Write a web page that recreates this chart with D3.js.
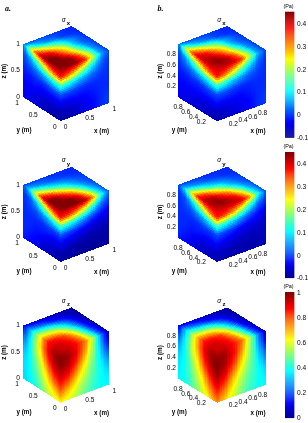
<!DOCTYPE html>
<html>
<head>
<meta charset="utf-8">
<script src="https://cdn.jsdelivr.net/npm/d3@7"></script>
<style>
  html, body { margin: 0; padding: 0; background: #fff; }
  text { font-family: "Liberation Sans", Arial, sans-serif; }
</style>
</head>
<body>
<svg id="chart" width="308" height="423"></svg>
<script>
// colour map
const JET_STOPS = [0, 0.125, 0.375, 0.625, 0.875, 1];
const JET_COLORS = ['#00008f', '#0000ff', '#00ffff', '#ffff00', '#ff0000', '#800000'];

// stress, in Pa. 7 x 7 nodes per face.
// top: rows y = 0..1, cols x = 0..1
// left (plane x = 0): rows z = 1..0, cols y = 0..1
// right (plane y = 0): rows z = 1..0, cols x = 0..1
const sxTopA = [
  [.44, .45, .44, .37, .21, .06, .00],
  [.45, .45, .44, .34, .20, .06, .00],
  [.45, .45, .36, .26, .14, .04, .00],
  [.42, .39, .30, .22, .08, .02, .00],
  [.34, .26, .19, .13, .06, .02, -.01],
  [.19, .10, .05, .03, .00, -.01, -.01],
  [.02, .01, .01, .00, .00, -.01, -.01]];
const sxLeftA = [
  [.44, .45, .45, .42, .34, .19, .02],
  [.37, .34, .28, .20, .12, .05, .00],
  [.14, .12, .09, .06, .03, .01, -.01],
  [.01, .01, .00, -.01, -.01, -.02, -.02],
  [-.04, -.04, -.04, -.04, -.03, -.03, -.03],
  [-.08, -.07, -.07, -.06, -.05, -.04, -.04],
  [-.09, -.09, -.08, -.07, -.06, -.05, -.04]];
const sxRightA = [
  [.44, .45, .44, .37, .21, .06, .00],
  [.37, .33, .26, .17, .09, .02, -.01],
  [.14, .12, .08, .05, .02, .00, -.01],
  [.01, .01, .00, -.01, -.01, -.01, -.01],
  [-.04, -.04, -.03, -.03, -.02, -.01, -.01],
  [-.08, -.07, -.06, -.04, -.03, -.01, .00],
  [-.09, -.08, -.07, -.05, -.03, -.01, .00]];

const syTopA = [
  [.44, .45, .45, .43, .31, .12, .01],
  [.45, .45, .45, .39, .26, .10, .01],
  [.45, .44, .37, .29, .17, .06, .01],
  [.38, .33, .25, .17, .08, .03, .00],
  [.24, .18, .11, .07, .04, .01, .00],
  [.09, .05, .03, .01, .00, -.01, -.01],
  [.00, .00, .00, -.01, -.01, -.01, -.01]];
const syLeftA = [
  [.44, .45, .45, .38, .24, .09, .00],
  [.37, .32, .24, .15, .07, .01, -.01],
  [.14, .11, .07, .04, .01, .00, -.01],
  [.01, .00, .00, -.01, -.01, -.01, -.01],
  [-.04, -.04, -.03, -.02, -.02, -.01, -.01],
  [-.08, -.07, -.06, -.05, -.03, -.02, -.01],
  [-.09, -.08, -.07, -.06, -.04, -.03, -.02]];
const syRightA = [
  [.44, .45, .45, .43, .31, .12, .01],
  [.37, .35, .30, .22, .12, .03, -.01],
  [.14, .12, .09, .05, .01, -.02, -.04],
  [.01, .00, -.01, -.03, -.05, -.06, -.06],
  [-.04, -.05, -.06, -.07, -.08, -.08, -.08],
  [-.08, -.08, -.09, -.09, -.09, -.09, -.08],
  [-.09, -.09, -.09, -.09, -.09, -.09, -.08]];

const szTopA = [
  [.93, .92, .87, .76, .54, .24, .05],
  [.92, .91, .85, .72, .48, .21, .05],
  [.86, .85, .80, .64, .40, .17, .04],
  [.68, .68, .63, .50, .30, .13, .03],
  [.48, .46, .43, .33, .22, .09, .03],
  [.28, .24, .20, .14, .10, .05, .02],
  [.10, .09, .07, .05, .04, .03, .02]];
const szLeftA = [
  [.93, .92, .86, .68, .48, .28, .10],
  [1.0, .97, .89, .71, .52, .34, .20],
  [.98, .95, .84, .67, .52, .36, .27],
  [.93, .88, .76, .61, .48, .37, .32],
  [.85, .79, .68, .56, .46, .37, .34],
  [.75, .68, .61, .52, .43, .37, .34],
  [.63, .60, .55, .48, .40, .36, .34]];
const szRightA = [
  [.93, .92, .87, .76, .54, .24, .05],
  [1.0, .97, .89, .73, .52, .28, .10],
  [.98, .95, .84, .67, .50, .32, .18],
  [.93, .88, .75, .60, .47, .36, .26],
  [.85, .78, .66, .55, .45, .38, .32],
  [.75, .67, .59, .50, .43, .38, .36],
  [.63, .60, .54, .47, .42, .38, .37]];

const sxTopB = [
  [.41, .42, .41, .36, .21, .06, .00],
  [.42, .45, .42, .33, .20, .06, .00],
  [.42, .42, .36, .27, .14, .04, .00],
  [.40, .37, .30, .22, .08, .02, .00],
  [.33, .26, .19, .13, .06, .02, -.01],
  [.19, .10, .05, .03, .00, -.01, -.01],
  [.02, .01, .01, .00, .00, -.01, -.01]];
const sxLeftB = [
  [.41, .42, .42, .40, .33, .19, .02],
  [.37, .34, .28, .20, .12, .05, .00],
  [.14, .12, .09, .06, .03, .01, -.01],
  [.01, .01, .00, -.01, -.01, -.02, -.02],
  [-.03, -.03, -.03, -.03, -.03, -.03, -.03],
  [-.07, -.06, -.06, -.05, -.05, -.04, -.04],
  [-.08, -.08, -.07, -.06, -.06, -.05, -.04]];
const sxRightB = [
  [.41, .42, .41, .36, .21, .06, .00],
  [.37, .33, .26, .17, .09, .02, -.01],
  [.14, .12, .08, .05, .02, .00, -.01],
  [.01, .01, .00, -.01, -.01, -.01, -.01],
  [-.03, -.03, -.03, -.03, -.02, -.01, -.01],
  [-.07, -.06, -.05, -.04, -.03, -.01, .00],
  [-.08, -.07, -.06, -.05, -.03, -.01, .00]];

const syTopB = [
  [.41, .42, .42, .41, .31, .12, .01],
  [.42, .45, .42, .37, .26, .10, .01],
  [.42, .42, .36, .29, .17, .06, .01],
  [.37, .33, .25, .17, .08, .03, .00],
  [.24, .18, .11, .07, .04, .01, .00],
  [.09, .05, .03, .01, .00, -.01, -.01],
  [.00, .00, .00, -.01, -.01, -.01, -.01]];
const syLeftB = [
  [.41, .42, .42, .37, .24, .09, .00],
  [.37, .32, .24, .15, .07, .01, -.01],
  [.14, .11, .07, .04, .01, .00, -.01],
  [.01, .00, .00, -.01, -.01, -.01, -.01],
  [-.03, -.03, -.03, -.02, -.02, -.01, -.01],
  [-.07, -.06, -.06, -.05, -.03, -.02, -.01],
  [-.08, -.07, -.07, -.06, -.04, -.03, -.02]];
const syRightB = [
  [.41, .42, .42, .41, .31, .12, .01],
  [.37, .35, .30, .22, .12, .03, -.01],
  [.14, .12, .09, .05, .01, -.02, -.04],
  [.01, .00, -.01, -.03, -.04, -.05, -.06],
  [-.03, -.04, -.05, -.06, -.07, -.07, -.07],
  [-.07, -.07, -.08, -.08, -.08, -.08, -.07],
  [-.08, -.08, -.08, -.08, -.08, -.08, -.07]];

const szTopB = [
  [.92, .92, .87, .77, .56, .26, .05],
  [.92, .91, .86, .73, .50, .22, .05],
  [.86, .86, .82, .66, .42, .18, .04],
  [.70, .70, .65, .52, .32, .13, .03],
  [.50, .47, .44, .34, .22, .09, .03],
  [.30, .25, .20, .14, .10, .05, .02],
  [.10, .09, .07, .05, .04, .03, .02]];
const szLeftB = [
  [.92, .92, .86, .70, .50, .30, .10],
  [.98, .97, .89, .72, .54, .36, .20],
  [1.0, .96, .85, .68, .54, .38, .28],
  [.97, .91, .78, .63, .50, .38, .33],
  [.91, .83, .70, .58, .47, .39, .35],
  [.83, .75, .64, .54, .45, .39, .36],
  [.74, .67, .59, .51, .44, .39, .37]];
const szRightB = [
  [.92, .92, .87, .77, .56, .26, .05],
  [.98, .97, .89, .74, .54, .30, .11],
  [1.0, .96, .85, .68, .52, .34, .20],
  [.97, .91, .77, .62, .49, .37, .27],
  [.91, .83, .68, .56, .46, .39, .33],
  [.83, .74, .62, .52, .44, .39, .36],
  [.74, .67, .57, .49, .43, .39, .37]];

// tick labels
const ticksA = [0, 0.5, 1];
const ticksB = [0.2, 0.4, 0.6, 0.8];
const cbarTicksXY = [-0.1, 0, 0.1, 0.2, 0.3, 0.4];
const cbarTicksZ = [0, 0.2, 0.4, 0.6, 0.8, 1];

const svg = d3.select('#chart');

const SUB = 5;            // polygons per grid cell along each side
const LABEL_COLOR = '#000';

const panels = [
  { col: 'a', row: 0, top: sxTopA, left: sxLeftA, right: sxRightA, domain: [-0.1, 0.45], title: 'x' },
  { col: 'b', row: 0, top: sxTopB, left: sxLeftB, right: sxRightB, domain: [-0.1, 0.45], title: 'x' },
  { col: 'a', row: 1, top: syTopA, left: syLeftA, right: syRightA, domain: [-0.1, 0.45], title: 'y' },
  { col: 'b', row: 1, top: syTopB, left: syLeftB, right: syRightB, domain: [-0.1, 0.45], title: 'y' },
  { col: 'a', row: 2, top: szTopA, left: szLeftA, right: szRightA, domain: [0, 1], title: 'z' },
  { col: 'b', row: 2, top: szTopB, left: szLeftB, right: szRightB, domain: [0, 1], title: 'z' },
];

const defs = svg.append('defs');
defs.append('filter').attr('id', 'soft')
  .attr('x', '-5%').attr('y', '-5%').attr('width', '110%').attr('height', '110%')
  .attr('color-interpolation-filters', 'sRGB')
  .append('feGaussianBlur').attr('stdDeviation', 0.45);
defs.append('filter').attr('id', 'softText')
  .attr('x', '-30%').attr('y', '-30%').attr('width', '160%').attr('height', '160%')
  .attr('color-interpolation-filters', 'sRGB')
  .append('feGaussianBlur').attr('stdDeviation', 0.18);

function jetScale(domain) {
  const t = d3.scaleLinear().domain(domain).range([0, 1]).clamp(true);
  const c = d3.scaleLinear().domain(JET_STOPS).range(JET_COLORS).interpolate(d3.interpolateRgb);
  return v => c(t(v));
}

// value inside a face grid, u along the columns, v along the rows
function sampleGrid(grid, u, v) {
  const n = grid.length - 1;
  const i = Math.min(Math.floor(v * n), n - 1), j = Math.min(Math.floor(u * n), n - 1);
  const fu = u * n - j, fv = v * n - i;
  const a = grid[i][j] + (grid[i][j + 1] - grid[i][j]) * fu;
  const b = grid[i + 1][j] + (grid[i + 1][j + 1] - grid[i + 1][j]) * fu;
  return a + (b - a) * fv;
}

function drawFace(g, grid, origin, du, dv, color) {
  const n = (grid.length - 1) * SUB;
  const cells = [];
  d3.range(n).forEach(i => d3.range(n).forEach(j => cells.push({ i, j })));
  const pt = (u, v) => [origin[0] + du[0] * u + dv[0] * v, origin[1] + du[1] * u + dv[1] * v];
  g.append('g').attr('shape-rendering', 'crispEdges')
    .selectAll('polygon').data(cells).join('polygon')
    .attr('points', d => [
      pt(d.j / n, d.i / n), pt((d.j + 1) / n, d.i / n),
      pt((d.j + 1) / n, (d.i + 1) / n), pt(d.j / n, (d.i + 1) / n)
    ].map(p => p.map(x => x.toFixed(2)).join(',')).join(' '))
    .attr('fill', d => color(sampleGrid(grid, (d.j + 0.5) / n, (d.i + 0.5) / n)));
}

function label(g, str, x, y, anchor, size, weight) {
  return g.append('text').text(str)
    .attr('x', x).attr('y', y)
    .attr('text-anchor', anchor || 'middle')
    .attr('dominant-baseline', 'middle')
    .attr('font-size', size || 6.6)
    .attr('font-weight', weight || 400)
    .attr('fill', LABEL_COLOR);
}

function drawCube(p) {
  const g = svg.append('g');
  const isA = p.col === 'a';
  const yOff = p.row * 140.7;
  const back = isA ? [71.7, 26 + yOff] : [227.3, 26 + yOff];
  const left = isA ? [23, 44.3 + yOff] : [178.3, 44 + yOff];
  const right = isA ? [109.3, 50.3 + yOff] : [266, 50 + yOff];
  const front = [left[0] + right[0] - back[0], left[1] + right[1] - back[1]];
  const h = isA ? 52.6 : 53.3;
  const toX = [right[0] - front[0], right[1] - front[1]];
  const toY = [left[0] - front[0], left[1] - front[1]];
  const color = jetScale(p.domain);

  const faces = g.append('g').attr('filter', 'url(#soft)');
  drawFace(faces, p.top, front, toX, toY, color);
  drawFace(faces, p.left, front, toY, [0, h], color);
  drawFace(faces, p.right, front, toX, [0, h], color);

  // axes
  const zPx = d3.scaleLinear().domain([0, 1]).range([left[1] + h, left[1]]);
  const xPx = d3.scaleLinear().domain([0, 1]).range([front[0], right[0]]);
  const xPy = d3.scaleLinear().domain([0, 1]).range([front[1] + h, right[1] + h]);
  const yPx = d3.scaleLinear().domain([0, 1]).range([front[0], left[0]]);
  const yPy = d3.scaleLinear().domain([0, 1]).range([front[1] + h, left[1] + h]);
  const ticks = isA ? ticksA : ticksB;

  const txt = g.append('g').attr('filter', 'url(#softText)');
  ticks.forEach(t => {
    label(txt, t, left[0] - (isA ? 3 : 2.4), zPx(t), 'end');
    label(txt, t, xPx(t) + (isA ? 5 : 6.5), xPy(t) + 6.5);
    if (isA) label(txt, t, yPx(t) - 4, yPy(t) + 6, 'end');
    else label(txt, t, yPx(t) - 8, yPy(t) + 5.5);
  });

  label(txt, 'y (m)', left[0] + 1, front[1] + h + 9.5, 'middle', 6.3, 700);
  label(txt, 'x (m)', front[0] + 41, front[1] + h + 10.5, 'middle', 6.3, 700);
  const zx = left[0] - 18.2, zy = left[1] + h * 0.51;
  label(txt, 'z (m)', zx, zy, 'middle', 6.3, 700).attr('transform', `rotate(-90 ${zx} ${zy})`);

  // title, sigma with subscript
  label(txt, '\u03c3', back[0] - 8, back[1] - 6, 'middle', 6.5, 400).attr('font-style', 'italic');
  label(txt, p.title, back[0] - 3.3, back[1] - 2.6, 'middle', 6, 700);
}

function drawColorbar(row) {
  const isZ = row === 2;
  const domain = isZ ? [0, 1] : [-0.1, 0.45];
  const tops = [11.7, 152, 292];
  const y0 = tops[row], y1 = y0 + 125.8;
  const g = svg.append('g');
  const y = d3.scaleLinear().domain(domain).range([y1, y0]);
  const color = jetScale(domain);
  const steps = d3.range(0, 128);
  g.selectAll('rect').data(steps).join('rect')
    .attr('x', 285).attr('width', 9.3)
    .attr('y', d => y(domain[0] + (domain[1] - domain[0]) * (d + 1) / 128))
    .attr('height', (y1 - y0) / 128 + 0.3)
    .attr('fill', d => color(domain[0] + (domain[1] - domain[0]) * (d + 0.5) / 128));

  const axis = d3.axisRight(y).tickValues(isZ ? cbarTicksZ : cbarTicksXY).tickSize(0).tickPadding(2.6)
    .tickFormat(d => d);
  const ax = g.append('g').attr('transform', 'translate(294.3,0)').attr('filter', 'url(#softText)').call(axis);
  ax.select('.domain').remove();
  ax.selectAll('text').attr('font-size', 6.6).attr('fill', LABEL_COLOR);

  label(g, '(Pa)', 288.5, y0 - 5.2, 'middle', 5.4).attr('filter', 'url(#softText)');
}

panels.forEach(drawCube);
d3.range(3).forEach(drawColorbar);

[['a.', 5], ['b.', 157.5]].forEach(([s, x]) => {
  svg.append('text').text(s).attr('x', x).attr('y', 11)
    .attr('font-size', 8).attr('font-weight', 700).attr('font-style', 'italic').attr('fill', '#000')
    .attr('filter', 'url(#softText)')
    .style('font-family', '"Liberation Serif", serif');
});
</script>
</body>
</html>
